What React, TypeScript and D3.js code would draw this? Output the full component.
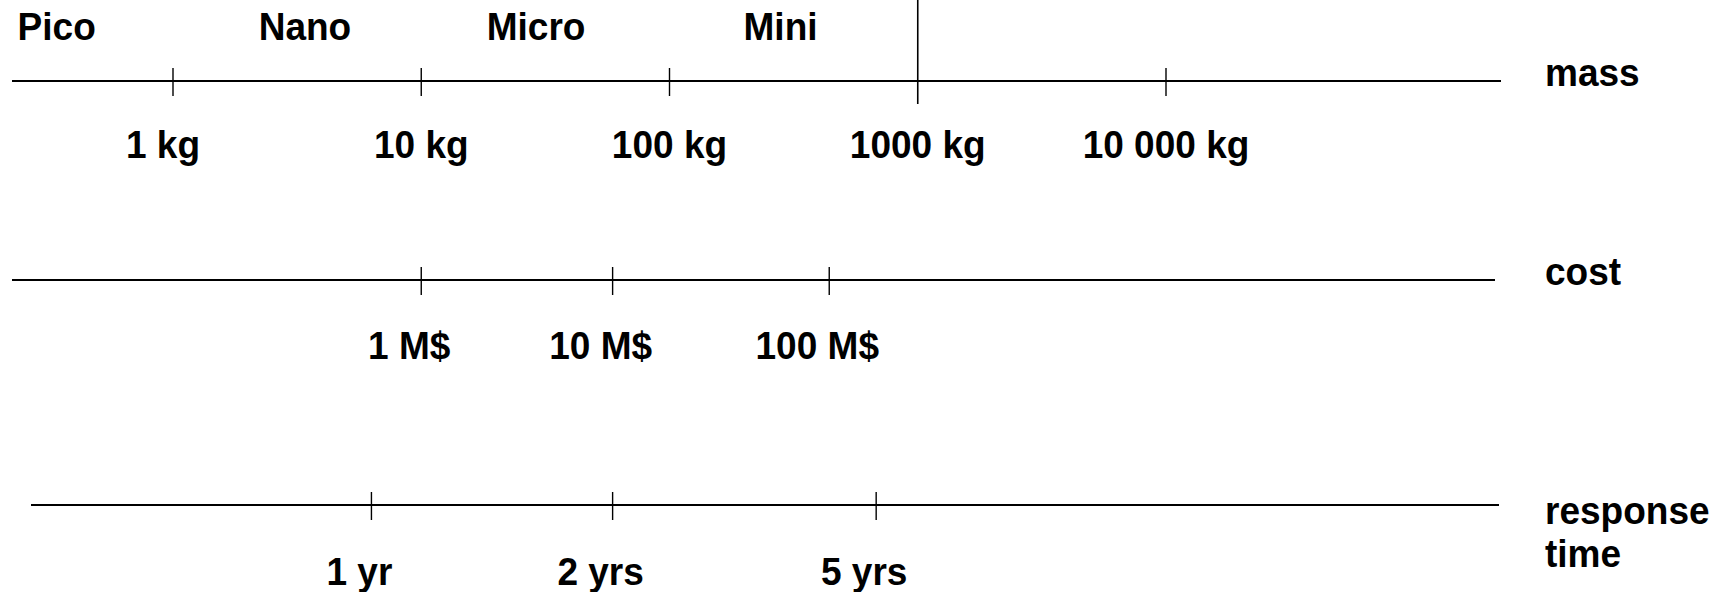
import React from 'react'
import * as d3 from 'd3'

// mass axis
const massTicks = [1, 10, 100, 1000, 10000]
const massTickLabels = ['1 kg', '10 kg', '100 kg', '1000 kg', '10 000 kg']
const classNames = ['Pico', 'Nano', 'Micro', 'Mini']
const classCentersKg = [0.34, 3.4, 29, 280]
const classLimitKg = 1000

// cost axis, each tick placed at the mass it corresponds to
const costLabels = ['1 M$', '10 M$', '100 M$']
const costAtMassKg = [10, 59, 440]

// response time axis
const timeLabels = ['1 yr', '2 yrs', '5 yrs']
const timeAtMassKg = [6.3, 59, 680]

const W = 1724
const H = 592
const FONT = '"Liberation Sans", Arial, Helvetica, sans-serif'

const Label = ({x, y, anchor = 'middle', children}: any) => (
  <text
    transform={`translate(${x},${y}) scale(0.95,1)`}
    textAnchor={anchor}
    fontFamily={FONT}
    fontWeight="bold"
    fontSize={39}
    fill="#000"
  >
    {children}
  </text>
)

const Row = ({y, x0, x1, ticks, labels, labelY, dx, name, nameY}: any) => (
  <g>
    <line x1={x0} x2={x1} y1={y} y2={y} stroke="#000" strokeWidth={2.2} />
    {ticks.map((t: number, i: number) => (
      <line key={i} x1={t} x2={t} y1={y - 13} y2={y + 15} stroke="#000" strokeWidth={1.4} />
    ))}
    {labels.map((l: string, i: number) => (
      <Label key={i} x={ticks[i] + dx} y={labelY}>{l}</Label>
    ))}
    {name.map((n: string, i: number) => (
      <Label key={n} x={1545} y={nameY + i * 43} anchor="start">{n}</Label>
    ))}
  </g>
)

const App = () => {
  const x = d3.scaleLog().domain([1, 10000]).range([173, 1166])

  return (
    <svg width={W} height={H} style={{position: 'absolute', left: 0, top: 0, background: '#fff'}}>
      <rect width={W} height={H} fill="#fff" />

      {classNames.map((c, i) => (
        <Label key={c} x={x(classCentersKg[i])} y={40}>{c}</Label>
      ))}
      <line x1={x(classLimitKg)} x2={x(classLimitKg)} y1={0} y2={104} stroke="#000" strokeWidth={1.6} />

      <Row
        y={81}
        x0={12}
        x1={1501}
        ticks={massTicks.filter((m) => m !== classLimitKg).map(x)}
        labels={[]}
        labelY={158}
        dx={0}
        name={['mass']}
        nameY={86}
      />
      {massTickLabels.map((l, i) => (
        <Label key={l} x={x(massTicks[i]) + (i === 0 ? -10 : 0)} y={158}>{l}</Label>
      ))}

      <Row
        y={280}
        x0={12}
        x1={1495}
        ticks={costAtMassKg.map(x)}
        labels={costLabels}
        labelY={359}
        dx={-12}
        name={['cost']}
        nameY={285}
      />

      <Row
        y={505}
        x0={31}
        x1={1499}
        ticks={timeAtMassKg.map(x)}
        labels={timeLabels}
        labelY={585}
        dx={-12}
        name={['response', 'time']}
        nameY={524}
      />
    </svg>
  )
}

export default App
